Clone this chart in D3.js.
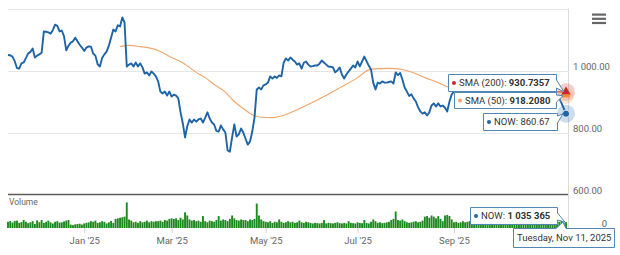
<!DOCTYPE html>
<html><head><meta charset="utf-8">
<script src="https://cdn.jsdelivr.net/npm/d3@7"></script>
<style>
html,body{margin:0;padding:0;background:#fff;}
svg{display:block;font-family:Roboto,"Noto Sans",sans-serif;}
</style></head>
<body><svg id="chart" width="620" height="255"></svg>
<script>
// ---------- DATA ----------
const firstDay = "2024-11-12", lastDay = "2025-11-11";
const holidays = ["2024-11-28","2024-12-25","2025-01-01","2025-01-09","2025-01-20","2025-02-17",
  "2025-04-18","2025-05-26","2025-06-19","2025-07-04","2025-09-01"];

const price = [
 1050,1049,1045,1030,1008,1006,1023,1026,1040,1055,
 1060,1071,1042,1048,1052,1057,1126,1125,1123,1119,
 1130,1148,1144,1126,1129,1110,1065,1080,1090,1094,
 1106,1094,1083,1074,1063,1074,1078,1077,1055,1048,
 1020,1013,1040,1052,1061,1080,1106,1132,1126,1146,
 1142,1171,1155,1013,1019,1023,1013,1026,1013,1023,
 1010,990,994,984,997,990,981,965,932,926,
 932,919,932,916,922,919,910,865,830,784,
 820,842,832,842,835,842,845,832,848,865,
 845,832,826,805,803,823,810,800,742,738,
 784,826,787,794,813,800,780,761,771,803,
 848,939,945,939,952,955,961,981,974,981,
 976,984,981,1025,1039,1032,1042,1035,1029,1019,
 1023,1006,1025,1029,1019,1013,1014,1016,1016,1022,
 1032,1026,1019,1013,1012,1010,994,1000,1010,987,
 974,987,997,1006,1016,1010,1029,1013,1029,1045,
 1030,1015,1003,960,939,961,958,965,961,961,
 963,965,958,994,985,992,971,945,932,918,
 923,910,900,881,868,861,865,855,865,887,
 894,884,894,884,887,880,868,900,923,932,
 940,945,938,950,955,948,958,962,955,948,
 952,960,966,958,950,945,952,960,955,948,
 940,946,952,944,936,942,950,957,950,942,
 935,940,948,955,948,940,932,938,945,940,
 930,922,928,935,925,918,910,895,878,860.67
];

// volume in thousands of shares
const volumeK = [
 1100,1200,950,1250,1300,900,1050,1400,1100,850,
 1000,1200,700,1350,1000,1400,900,1100,1300,1000,
 800,1100,1200,950,1000,1150,1300,1400,600,500,
 650,700,750,600,800,900,1000,1200,1100,1300,
 900,1000,1200,1100,800,1000,1250,900,1600,1700,
 1800,1900,2000,4500,1500,1300,1000,1100,900,1200,
 1000,1100,1300,1000,1200,1100,1200,1200,1300,1100,
 1400,1300,1600,1700,1600,1700,1400,1800,1500,2750,
 2200,1500,1300,1400,1200,1300,1100,2100,1200,1000,
 1300,1200,1100,1400,2100,1300,1500,1400,1200,1600,
 2200,1700,1400,1300,1500,1400,1400,1200,1500,1400,
 1600,4300,2200,1500,1200,1100,1000,1200,900,1100,
 1000,1500,1100,900,1000,1200,1000,1100,900,1000,
 1300,1000,900,1100,1000,900,800,900,850,800,
 900,1400,800,900,850,800,900,1000,850,800,
 900,800,1200,900,850,800,1000,900,850,1400,
 900,800,1100,1500,1200,900,1000,850,900,1000,
 1100,1400,1600,2900,1400,1300,1500,1200,1000,900,
 1000,1100,1200,1000,1100,1300,2000,2100,1800,2200,
 2000,1700,2100,1600,1200,2200,2300,2100,1500,1000,
 1100,900,1000,1200,1000,1100,1200,1000,1300,1100,
 1000,1200,1400,1100,1000,1300,1200,1100,1000,1200,
 1300,1100,1000,1200,1500,1300,1100,1000,1200,1100,
 1000,1300,1200,1400,1100,1000,1200,1300,1100,1000,
 1200,1400,1300,1500,1200,1400,1100,1500,900,1035.365
];

// SMA(50) read at trading-day positions
const sma50Idx = [50,54,59,63,68,72,77,81,84,88,92,97,101,106,109,113,118,122,128,134,141,148,156,161,165,170,176,180,186,192,196,205,215,225,235,249];
const sma50Val = [1077,1081,1077,1073,1061,1045,1029,1010,994,977,955,930,900,872,857,849,848,853,870,890,916,944,977,1002,1006,1007,1003,995,977,961,948,941,935,929,924,918.2080];
// SMA(200) (starts after 200 sessions)
const sma200Idx = [199,215,230,249];
const sma200Val = [936,934,932.5,930.7357];

const priceTicks = [600, 800, 1000, 1200];
const volumeTicks = [0];
const monthTicks = ["2025-01","2025-03","2025-05","2025-07","2025-09"];
const monthLabels = ["Jan '25","Mar '25","May '25","Jul '25","Sep '25"];

// ---------- SETUP ----------
const svg = d3.select("#chart");
const fmtDay = d3.utcFormat("%Y-%m-%d");
const holi = new Set(holidays);
const dates = d3.utcDay.range(new Date(firstDay+"T00:00Z"), d3.utcDay.offset(new Date(lastDay+"T00:00Z"),1))
  .filter(d => d.getUTCDay()!==0 && d.getUTCDay()!==6 && !holi.has(fmtDay(d)))
  .map(fmtDay);
const volume = volumeK.map(v => v*1000);

const loc = d3.formatLocale({decimal:".", thousands:" ", grouping:[3], currency:["",""]});
const fmtPrice = loc.format(",.2f");
const fmtVol = loc.format(",d");
const fmt4 = d3.format(".4f");

const L = 8, R = 568;
const x = d3.scalePoint().domain(dates).range([8, 566]);
const y = d3.scaleLinear().domain([600, 1200]).range([194.5, 8.5]);
const vy = d3.scaleLinear().domain([0, 5.45e6]).range([228, 197]);

// grid lines (price)
svg.append("g").selectAll("line").data(priceTicks.filter(t=>t!==600)).join("line")
  .attr("x1", L).attr("x2", R).attr("y1", d=>Math.round(y(d))+0.5).attr("y2", d=>Math.round(y(d))+0.5)
  .attr("stroke", "#e6e6e6").attr("stroke-width", 1);

// right axis border line
svg.append("line").attr("x1", R+0.5).attr("x2", R+0.5).attr("y1", y(1200)).attr("y2", vy(0))
  .attr("stroke", "#dcdcdc");

// price axis labels (right)
const yAxis = d3.axisRight(y).tickValues(priceTicks.filter(t=>t!==1200)).tickSize(0).tickFormat(fmtPrice);
const gy = svg.append("g").attr("transform", `translate(${R+5},0)`).call(yAxis);
gy.select(".domain").remove();
gy.selectAll("text").attr("x", 0).attr("dy", "-0.15em").attr("text-anchor","start")
  .attr("fill", "#666").style("font-size", "9.5px").style("font-family","Roboto");

// volume axis label
const vAxis = d3.axisRight(vy).tickValues(volumeTicks).tickSize(0).tickFormat(d3.format("d"));
const gv = svg.append("g").attr("transform", `translate(${R+39},0)`).call(vAxis);
gv.select(".domain").remove();
gv.selectAll("text").attr("x", 0).attr("dy","-0.2em").attr("text-anchor","end")
  .attr("fill", "#666").style("font-size","9.5px").style("font-family","Roboto");

// Volume title
svg.append("text").attr("x", 9).attr("y", 205).attr("fill","#666").style("font-size","8.5px").text("Volume");

// volume bars
svg.append("g").selectAll("rect").data(volume).join("rect")
  .attr("x", (d,i)=>x(dates[i]) - 0.95).attr("width", 1.9)
  .attr("y", d=>vy(d)).attr("height", d=>vy(0)-vy(d))
  .attr("fill", "#1f8a1f");

// pane separator (600 line)
svg.append("line").attr("x1", L).attr("x2", R).attr("y1", y(600)).attr("y2", y(600))
  .attr("stroke", "#5c5c5c").attr("stroke-width", 1.5);

// x axis
const tickDates = monthTicks.map(m => dates.find(d => d.startsWith(m)));
const xAxis = d3.axisBottom(x).tickValues(tickDates).tickSize(5).tickPadding(4)
  .tickFormat((d,i)=>monthLabels[i]);
const gx = svg.append("g").attr("transform", `translate(0,${vy(0)})`).call(xAxis);
gx.select(".domain").remove();
gx.selectAll("line").attr("stroke", "#d0d0d0");
gx.selectAll("text").attr("fill","#666").style("font-size","9.5px").style("font-family","Roboto");

// SMA lines
const curve = d3.line().x(d=>x(dates[d[0]])).y(d=>y(d[1])).curve(d3.curveMonotoneX);
svg.append("path").datum(sma50Idx.map((k,i)=>[k, sma50Val[i]]))
  .attr("d", curve).attr("fill","none").attr("stroke","#f2a56b").attr("stroke-width",1.1);
svg.append("path").datum(sma200Idx.map((k,i)=>[k, sma200Val[i]]))
  .attr("d", curve).attr("fill","none").attr("stroke","#c62828").attr("stroke-width",1.1);

// price line
const pline = d3.line().x((d,i)=>x(dates[i])).y(d=>y(d)).curve(d3.curveLinear);
svg.append("path").datum(price).attr("d", pline).attr("fill","none")
  .attr("stroke","#1f64a6").attr("stroke-width",1.9).attr("stroke-linejoin","round");

// ---------- hover markers ----------
const n = dates.length - 1;
const lx = x(dates[n]);
const pS200 = y(sma200Val[sma200Val.length-1]);
const pS50 = y(sma50Val[sma50Val.length-1]);
const pNow = y(price[n]);
svg.append("circle").attr("cx", lx).attr("cy", pS200).attr("r", 9).attr("fill","rgba(198,40,40,0.22)");
svg.append("circle").attr("cx", lx).attr("cy", pS50).attr("r", 8).attr("fill","rgba(242,165,107,0.3)");
svg.append("circle").attr("cx", lx).attr("cy", pNow).attr("r", 9).attr("fill","rgba(31,100,166,0.22)");
svg.append("path").attr("d", d3.symbol(d3.symbolTriangle, 40)()).attr("transform", `translate(${lx},${pS200})`)
  .attr("fill","#c62828");
svg.append("rect").attr("x", lx-4).attr("y", pS50-1.5).attr("width", 8).attr("height", 3).attr("fill","#f08a3c");
svg.append("circle").attr("cx", lx).attr("cy", pNow).attr("r", 3.6).attr("fill","#1f64a6").attr("stroke","#fff").attr("stroke-width",0.8);

// ---------- tooltips ----------
const border = "#5286b4";
function tip(opts) {
  const g = svg.append("g");
  const path = g.append("path").attr("fill","rgba(255,255,255,0.97)").attr("stroke", border).attr("stroke-width",1);
  const t = g.append("text").attr("y", opts.t + opts.h/2 + 3.4).style("font-size","9.5px").attr("fill","#333");
  let tx = opts.textX;
  if (opts.dot) {
    g.append("circle").attr("cx", opts.textX + 2).attr("cy", opts.t + opts.h/2).attr("r", 2).attr("fill", opts.dot);
    tx = opts.textX + 7;
  }
  t.attr("x", tx);
  t.append("tspan").text(opts.label);
  if (opts.value) t.append("tspan").attr("font-weight","bold").text(opts.value);
  const {l, r} = opts, top = opts.t, b = opts.t + opts.h;
  let d;
  if (opts.side === "right") {
    d = `M${l},${top}H${r}V${opts.a1}L${opts.px},${opts.py}L${r},${opts.a2}V${b}H${l}Z`;
  } else {
    d = `M${l},${top}H${opts.a1}L${opts.px},${opts.py}L${opts.a2},${top}H${r}V${b}H${l}Z`;
  }
  path.attr("d", d);
}
tip({l:448.5, r:556.5, t:74.5, h:17, side:"right", a1:80, a2:88, px:lx-2, py:pS200,
     dot:"#c62828", textX:452, label:"SMA (200): ", value: fmt4(sma200Val[sma200Val.length-1])});
tip({l:454.5, r:556.5, t:92.5, h:16, side:"right", a1:95, a2:102, px:lx-3, py:pS50,
     dot:"#f2a56b", textX:458, label:"SMA (50): ", value: fmt4(sma50Val[sma50Val.length-1])});
tip({l:483.5, r:557.5, t:113.5, h:17, side:"right", a1:116, a2:123, px:lx-3, py:pNow,
     dot:"#1f64a6", textX:487, label:"NOW: " + fmtPrice(price[n]), value:""});
tip({l:470.5, r:557.5, t:207.5, h:17, side:"right", a1:213, a2:220, px:lx-1, py:vy(volume[n]),
     dot:"#1f64a6", textX:474, label:"NOW: ", value: fmtVol(volume[n])});
tip({l:513.5, r:614.5, t:228.5, h:19, side:"top", a1:556, a2:566, px:lx-3, py:222,
     dot:null, textX:517, label: d3.utcFormat("%A, %b %d, %Y")(new Date(dates[n]+"T00:00Z")), value:""});

// menu icon
svg.append("g").selectAll("rect").data([0,1,2]).join("rect")
  .attr("x", 592).attr("y", d=>13.5 + d*4.2).attr("width", 14).attr("height", 2.2).attr("fill","#666");
</script>
</body></html>
